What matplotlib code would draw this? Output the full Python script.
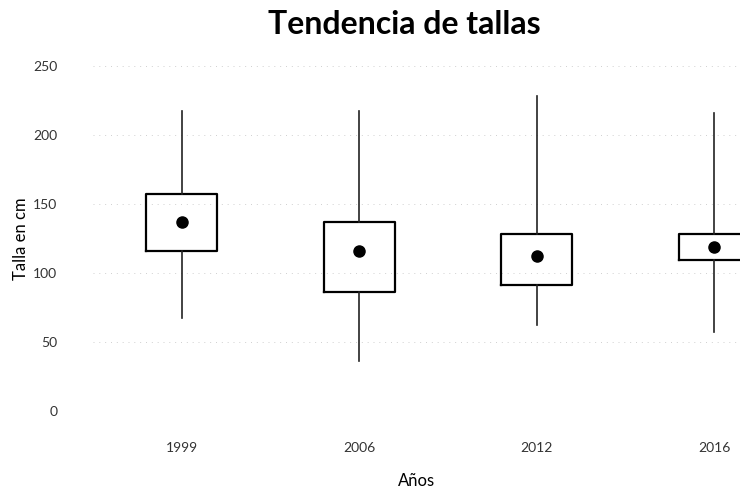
import numpy as np
import matplotlib.pyplot as plt

# Values (cm)
years = ['1999', '2006', '2012', '2016']
whisker_low = [67, 36, 62, 57]
q1 = [116, 86, 91, 109]
q3 = [157, 137, 128, 128]
whisker_high = [217, 217, 228, 216]
means = [137, 116, 112, 119]

plt.rcParams['font.family'] = ['Lato', 'DejaVu Sans']

fig = plt.figure(figsize=(7.4, 4.91), dpi=100)
ax = fig.add_axes([0.126, 0.163, 0.874, 0.703])

stats = []
for i, yr in enumerate(years):
    stats.append({'label': yr, 'whislo': whisker_low[i], 'q1': q1[i],
                  'med': means[i], 'q3': q3[i], 'whishi': whisker_high[i],
                  'mean': means[i]})

ax.bxp(stats, positions=range(len(years)), widths=0.4, showmeans=True,
       showcaps=False, showfliers=False,
       boxprops=dict(color='black', linewidth=1.6),
       whiskerprops=dict(color='#222222', linewidth=1.2),
       medianprops=dict(linewidth=0),
       meanprops=dict(marker='o', markerfacecolor='black',
                      markeredgecolor='black', markersize=8))

# faint dotted gridlines (mostly lost in the scan)
for yv in range(0, 251, 50):
    ax.axhline(yv, color='#d0d0d0', linestyle=(0, (1, 5)), linewidth=0.7, zorder=0)

ax.set_ylim(0, 250)
ax.set_xlim(-0.5, 3.146)
ax.set_yticks(range(0, 251, 50))
ax.set_xticks(range(len(years)))
ax.set_xticklabels(years)
for s in ax.spines.values():
    s.set_visible(False)
ax.tick_params(length=0, labelsize=10, colors='#333333')
ax.tick_params(axis='x', pad=22)
ax.tick_params(axis='y', pad=26)

ax.set_xlabel('Años', fontsize=12, labelpad=14)
ax.set_ylabel('Talla en cm', fontsize=12, labelpad=3)
fig.text(0.547, 0.95, 'Tendencia de tallas', ha='center', va='center',
         fontsize=23, fontweight='bold')

fig.savefig('out.png', dpi=100)
